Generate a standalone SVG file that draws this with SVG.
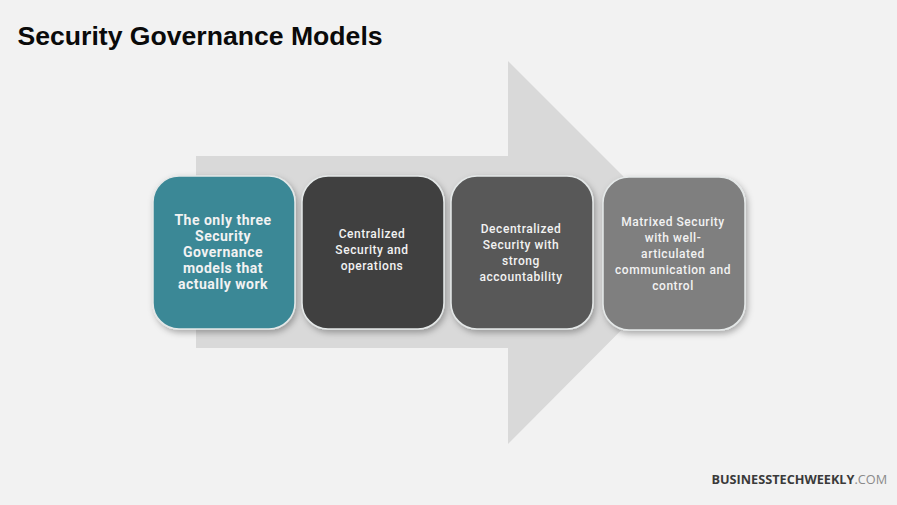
<svg xmlns="http://www.w3.org/2000/svg" width="897" height="505" viewBox="0 0 897 505">
<defs>
<filter id="sh" x="-10%" y="-10%" width="125%" height="125%"><feDropShadow dx="2" dy="3" stdDeviation="3" flood-color="#000" flood-opacity="0.3"/></filter>
</defs>
<style>
.box{stroke:#e4e8e8;stroke-width:1.5;filter:url(#sh)}
.t{font-family:Roboto,"Noto Sans",sans-serif;font-weight:500;font-size:12px;fill:#f2f2f2;text-anchor:middle;letter-spacing:.55px}
.b{font-size:14px;font-weight:700;letter-spacing:.5px}
</style>
<rect width="897" height="505" fill="#f2f2f2"/>
<g id="arrow"><polygon points="196,156 508,156 508,61 699,252 508,444 508,348 196,348" fill="#d9d9d9"/></g>
<text x="17.500" y="45" font-family="'Liberation Sans',Arial,sans-serif" font-weight="700" font-size="26.6" fill="#0a0a0a">Security Governance Models</text>
<g id="node1"><rect class="box" x="153" y="176" width="142" height="153" rx="26" fill="#3b8896"/>
<text class="t b" x="223" y="225">The only three</text><text class="t b" x="223" y="241">Security</text><text class="t b" x="223" y="257">Governance</text><text class="t b" x="223" y="273">models that</text><text class="t b" x="223" y="289">actually work</text></g>
<g id="node2"><rect class="box" x="302" y="176" width="142" height="153" rx="26" fill="#3f3f3f"/>
<text class="t" x="372" y="238">Centralized</text><text class="t" x="372" y="254">Security and</text><text class="t" x="372" y="270">operations</text></g>
<g id="node3"><rect class="box" x="451" y="176" width="142" height="153" rx="26" fill="#595959"/>
<text class="t" x="521" y="233">Decentralized</text><text class="t" x="521" y="249">Security with</text><text class="t" x="521" y="265">strong</text><text class="t" x="521" y="281">accountability</text></g>
<g id="node4"><rect class="box" x="603" y="177" width="142" height="153" rx="26" fill="#7f7f7f"/>
<text class="t" x="673" y="226">Matrixed Security</text><text class="t" x="673" y="242">with well-</text><text class="t" x="673" y="258">articulated</text><text class="t" x="673" y="274">communication and</text><text class="t" x="673" y="290">control</text></g>
<text x="711.500" y="484" font-family="'Open Sans','Noto Sans',sans-serif" font-size="12.7" fill="#3a3a3a"><tspan font-weight="700">BUSINESSTECHWEEKLY</tspan><tspan fill="#8a8a8a">.COM</tspan></text>
</svg>
